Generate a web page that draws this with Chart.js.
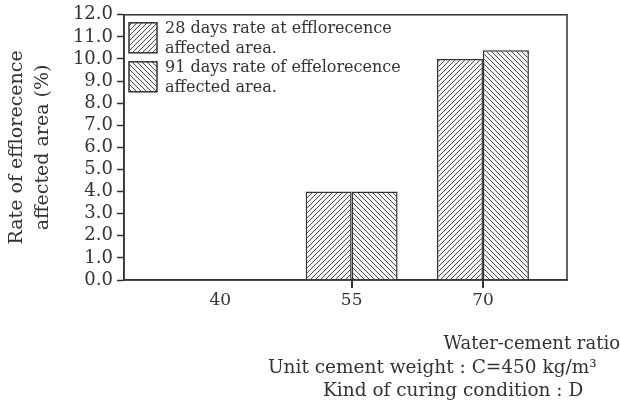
<!DOCTYPE html>
<html>
<head>
<meta charset="utf-8">
<script src="https://cdn.jsdelivr.net/npm/chart.js@4.4.1/dist/chart.umd.min.js"></script>
<style>
  html, body { margin: 0; padding: 0; background: #fff; }
  #wrap { position: relative; width: 620px; height: 405px; }
  .note {
    position: absolute;
    font-family: "DejaVu Serif", serif;
    font-size: 18.5px;
    color: #333;
    white-space: nowrap;
    line-height: 22px;
  }
</style>
</head>
<body>
<div id="wrap">
  <canvas id="RateChart" width="620" height="405"></canvas>
  <div class="note" style="right:0px; top:332px; font-size:18px;">Water-cement ratio</div>
  <div class="note" style="left:268px; top:356px;">Unit cement weight : C=450 kg/m³</div>
  <div class="note" style="left:323px; top:379px;">Kind of curing condition : D</div>
</div>
<script>
const waterCementRatios = [40, 55, 70];
const rate28Days = [0, 4.0, 10.0];
const rate91Days = [0, 4.0, 10.4];
const seriesNames = [
  ["28 days rate at efflorecence", "affected area."],
  ["91 days rate of effelorecence", "affected area."],
];
const yTitle = ["Rate of efflorecence", "affected area (%)"];

const inkColor = "#333";
const fontFamily = "'DejaVu Serif', serif";

function makeHatch(dir) {
  const s = 5;
  const c = document.createElement("canvas");
  c.width = s;
  c.height = s;
  const g = c.getContext("2d");
  g.fillStyle = "#f6f6f6";
  g.fillRect(0, 0, s, s);
  g.strokeStyle = "#4a4a4a";
  g.lineWidth = 1;
  g.beginPath();
  if (dir === "/") {
    g.moveTo(-1, s + 1); g.lineTo(s + 1, -1);
    g.moveTo(-1, 1); g.lineTo(1, -1);
    g.moveTo(s - 1, s + 1); g.lineTo(s + 1, s - 1);
  } else {
    g.moveTo(-1, -1); g.lineTo(s + 1, s + 1);
    g.moveTo(s - 1, -1); g.lineTo(s + 1, 1);
    g.moveTo(-1, s - 1); g.lineTo(1, s + 1);
  }
  g.stroke();
  return g.createPattern(c, "repeat");
}

const hatch28 = makeHatch("/");
const hatch91 = makeHatch("\\");

// plot frame, plus x tick marks under the groups that have bars
const framePlugin = {
  id: "frame",
  afterDraw(chart) {
    const { ctx, chartArea: a } = chart;
    const xScale = chart.scales.x;
    ctx.save();
    ctx.strokeStyle = inkColor;
    ctx.lineWidth = 1.5;
    ctx.strokeRect(a.left, a.top, a.right - a.left, a.bottom - a.top);
    ctx.lineWidth = 2;
    waterCementRatios.forEach((v, i) => {
      if (!rate28Days[i] && !rate91Days[i]) return;
      const px = Math.round(xScale.getPixelForValue(v));
      ctx.fillStyle = inkColor;
      ctx.fillRect(px - 1, a.bottom, 2, 8);
    });
    ctx.restore();
  },
};

// legend drawn inside the plot, two lines per entry
const boxLegendPlugin = {
  id: "boxLegend",
  afterDraw(chart) {
    const { ctx, chartArea: a } = chart;
    ctx.save();
    ctx.font = "16px " + fontFamily;
    ctx.textBaseline = "middle";
    chart.data.datasets.forEach((ds, i) => {
      const bx = a.left + 5;
      const by = a.top + 8 + i * 39;
      ctx.fillStyle = ds.backgroundColor;
      ctx.fillRect(bx, by, 28, 30);
      ctx.strokeStyle = inkColor;
      ctx.lineWidth = 1.5;
      ctx.strokeRect(bx, by, 28, 30);
      ctx.fillStyle = inkColor;
      seriesNames[i].forEach((line, j) => {
        ctx.fillText(line, bx + 36, by + 6 + j * 20);
      });
    });
    ctx.restore();
  },
};

const chartConfig = {
  type: "bar",
  data: {
    datasets: [
      {
        label: seriesNames[0].join(" "),
        data: waterCementRatios.map((x, i) => ({ x, y: rate28Days[i] })),
        backgroundColor: hatch28,
        borderColor: inkColor,
        borderWidth: 1.5,
        borderSkipped: "start",
      },
      {
        label: seriesNames[1].join(" "),
        data: waterCementRatios.map((x, i) => ({ x, y: rate91Days[i] })),
        backgroundColor: hatch91,
        borderColor: inkColor,
        borderWidth: 1.5,
        borderSkipped: "start",
      },
    ],
  },
  options: {
    responsive: false,
    animation: false,
    categoryPercentage: 0.7,
    barPercentage: 1,
    layout: {
      padding: { top: 13, right: 53, left: 0, bottom: 0 },
    },
    scales: {
      x: {
        type: "linear",
        offset: false,
        min: 29,
        max: 79.6,
        afterBuildTicks(scale) {
          scale.ticks = waterCementRatios.map(v => ({ value: v }));
        },
        afterFit(scale) {
          scale.height = 125;
        },
        ticks: {
          color: inkColor,
          padding: 3,
          autoSkip: false,
          maxRotation: 0,
          font: { family: fontFamily, size: 17 },
          callback: v => String(v),
        },
        grid: {
          offset: false,
          drawOnChartArea: false,
          tickLength: 7,
          tickColor: "rgba(0,0,0,0)",
        },
        border: { color: inkColor, width: 1.5 },
      },
      y: {
        min: 0,
        max: 12,
        afterFit(scale) {
          scale.width = 124;
        },
        ticks: {
          stepSize: 1,
          autoSkip: false,
          color: inkColor,
          padding: 4,
          font: { family: fontFamily, size: 18 },
          callback: v => v.toFixed(1),
        },
        grid: {
          drawOnChartArea: false,
          tickLength: 7,
          tickWidth: 1.5,
          tickColor: inkColor,
        },
        border: { color: inkColor, width: 1.5 },
        title: {
          display: true,
          text: yTitle,
          color: inkColor,
          font: { family: fontFamily, size: 19, lineHeight: 1.37 },
          padding: { top: 4, bottom: 0 },
        },
      },
    },
    plugins: {
      legend: { display: false },
      tooltip: { enabled: false },
    },
  },
  plugins: [framePlugin, boxLegendPlugin],
};

new Chart(document.getElementById("RateChart"), chartConfig);
</script>
</body>
</html>
